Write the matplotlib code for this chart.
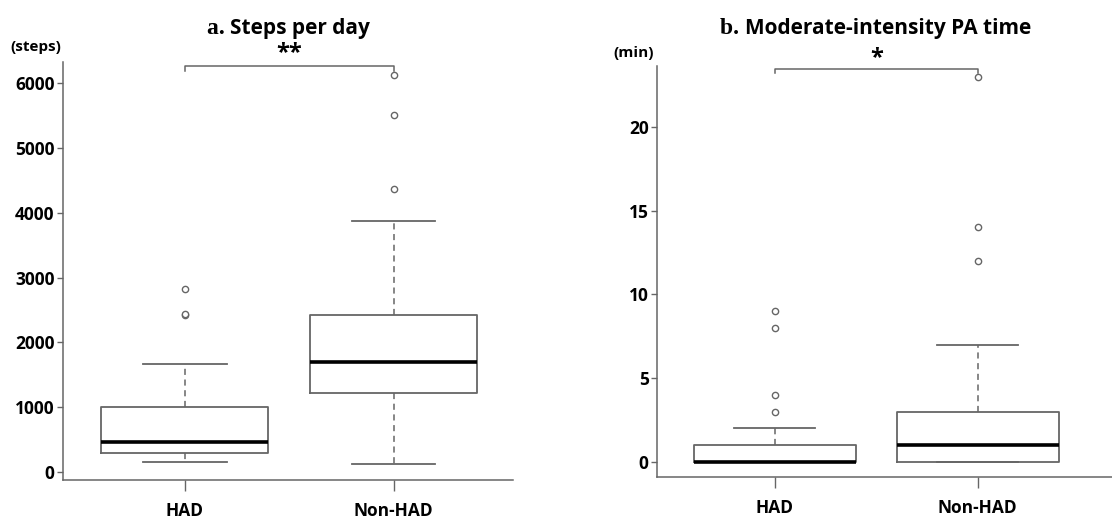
import matplotlib
matplotlib.use("Agg")
import matplotlib.pyplot as plt

# groups
groups = ["HAD", "Non-HAD"]

# a. steps per day
steps_q1 = [300, 1220]
steps_med = [460, 1700]
steps_q3 = [1000, 2420]
steps_lo = [150, 120]
steps_hi = [1660, 3870]
steps_fliers = [[2420, 2440, 2830], [4360, 5510, 6130]]
steps_ticks = [0, 1000, 2000, 3000, 4000, 5000, 6000]

# b. moderate-intensity PA time (min)
pa_q1 = [0, 0]
pa_med = [0, 1]
pa_q3 = [1, 3]
pa_lo = [0, 0]
pa_hi = [2, 7]
pa_fliers = [[3, 4, 8, 9], [12, 14, 23]]
pa_ticks = [0, 5, 10, 15, 20]

GRAY = "#666666"
SANS = ["Open Sans", "DejaVu Sans"]
SERIF = ["Liberation Serif", "DejaVu Serif"]

plt.rcParams["font.family"] = SANS


def make_stats(q1, med, q3, lo, hi, fliers):
    stats = []
    for i in range(len(groups)):
        stats.append({"label": groups[i], "q1": q1[i], "med": med[i], "q3": q3[i],
                      "whislo": lo[i], "whishi": hi[i], "fliers": fliers[i]})
    return stats


def draw_panel(ax, stats, ticks, ylim, xlim):
    ax.bxp(stats, positions=[1, 2], widths=0.8, showfliers=True,
           boxprops=dict(color=GRAY, linewidth=1.3),
           medianprops=dict(color="black", linewidth=2.6),
           whiskerprops=dict(color=GRAY, linewidth=1.1, linestyle=(0, (4, 3))),
           capprops=dict(color=GRAY, linewidth=1.3),
           flierprops=dict(marker="o", markersize=4.5, markerfacecolor="white",
                           markeredgecolor=GRAY, markeredgewidth=1.0))
    ax.set_xlim(*xlim)
    ax.set_ylim(*ylim)
    ax.set_yticks(ticks)
    ax.set_xticks([1, 2])
    ax.set_xticklabels(groups, fontsize=12.5, fontweight="bold")
    for lab in ax.get_yticklabels():
        lab.set_fontsize(12.5)
        lab.set_fontweight("bold")
    ax.tick_params(axis="y", length=4, width=1, color=GRAY, pad=2)
    ax.tick_params(axis="x", length=8, width=1, color=GRAY, pad=8)
    for s in ["top", "right"]:
        ax.spines[s].set_visible(False)
    for s in ["left", "bottom"]:
        ax.spines[s].set_color(GRAY)
        ax.spines[s].set_linewidth(1.1)
    # caps are about half the box width
    for cap in ax.lines:
        xd = cap.get_xdata()
        yd = cap.get_ydata()
        if (len(xd) == 2 and xd[0] != xd[1] and yd[0] == yd[1]
                and cap.get_linestyle() == "-" and cap.get_color() == GRAY):
            c = (xd[0] + xd[1]) / 2.0
            cap.set_xdata([c - 0.2, c + 0.2])


def bracket(ax, y_top, drop, label, lab_y):
    ax.plot([1, 1, 2, 2], [y_top - drop, y_top, y_top, y_top - drop],
            color=GRAY, linewidth=1.1, clip_on=False)
    ax.text(1.5, lab_y, label, ha="center", va="center", fontsize=17,
            fontweight="bold", clip_on=False)


def title(fig, x, y, letter, rest):
    fig.text(x, y, letter, ha="right", va="baseline", fontsize=17,
             family=SERIF, fontweight="bold")
    fig.text(x, y, rest, ha="left", va="baseline", fontsize=15,
             fontweight="bold")


fig = plt.figure(figsize=(11.12, 5.23), dpi=100)

ax1 = fig.add_axes([0.0567, 0.0822, 0.4043, 0.7993])
steps_stats = make_stats(steps_q1, steps_med, steps_q3, steps_lo, steps_hi, steps_fliers)
draw_panel(ax1, steps_stats, steps_ticks, (-123, 6327), (0.416, 2.57))
bracket(ax1, 6265, 70, "**", 6470)
fig.text(0.009, 0.91, "(steps)", fontsize=11, fontweight="bold", ha="left", va="center")
title(fig, 0.207, 0.935, "a. ", "Steps per day")

ax2 = fig.add_axes([0.5908, 0.088, 0.409, 0.7858])
pa_stats = make_stats(pa_q1, pa_med, pa_q3, pa_lo, pa_hi, pa_fliers)
draw_panel(ax2, pa_stats, pa_ticks, (-0.9, 23.64), (0.42, 2.66))
bracket(ax2, 23.46, 0.25, "*", 24.1)
fig.text(0.552, 0.898, "(min)", fontsize=11, fontweight="bold", ha="left", va="center")
title(fig, 0.670, 0.935, "b. ", "Moderate-intensity PA time")

fig.savefig("out.png", dpi=100, facecolor="white")
